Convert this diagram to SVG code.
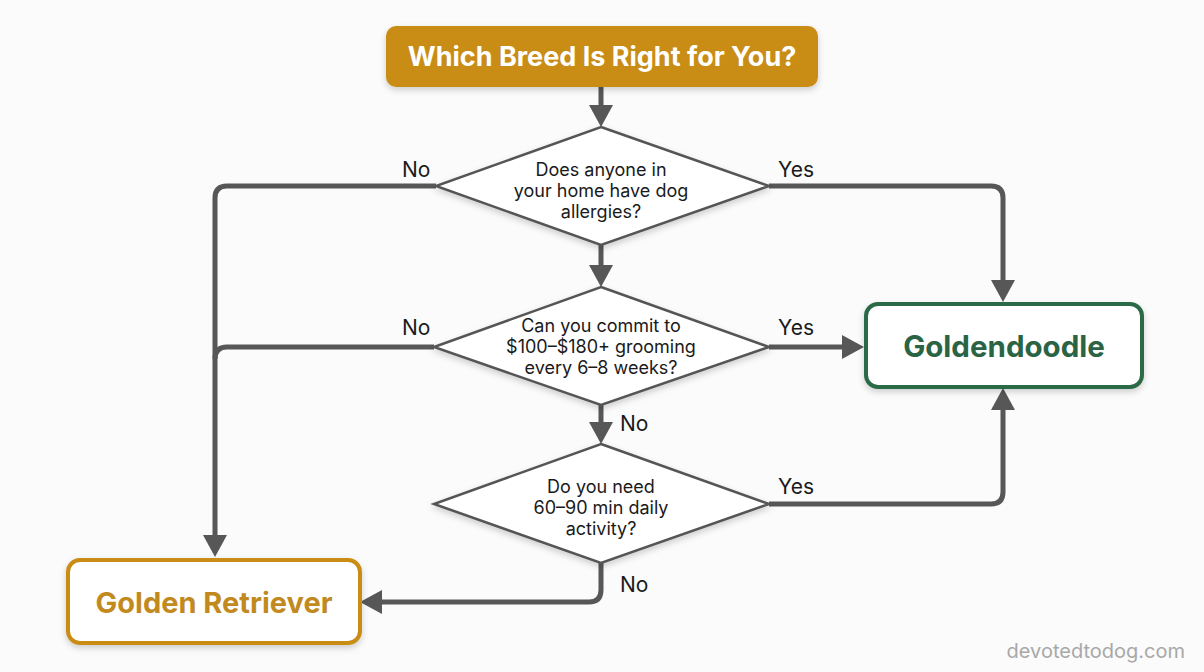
<svg xmlns="http://www.w3.org/2000/svg" width="1204" height="672" viewBox="0 0 1204 672">
  <style>
    .conn { fill: none; stroke: #575757; stroke-width: 5; stroke-linejoin: round; }
    .q { font-family: Inter, "Liberation Sans", sans-serif; font-size: 18px; fill: #1a1a1a; text-anchor: middle; }
    .lbl { font-family: Inter, "Liberation Sans", sans-serif; font-size: 21px; fill: #1a1a1a; }
    .diamond { fill: #ffffff; stroke: #555555; stroke-width: 2.5; }
  </style>
  <defs>
    <marker id="arrow" viewBox="0 0 22 24" markerWidth="22" markerHeight="24" markerUnits="userSpaceOnUse" refX="0" refY="12" orient="auto">
      <path d="M0,0 L22,12 L0,24 z" fill="#575757"/>
    </marker>
    <filter id="shadow" x="-10%" y="-10%" width="120%" height="130%">
      <feDropShadow dx="0" dy="3" stdDeviation="3" flood-color="#000" flood-opacity="0.18"/>
    </filter>
  </defs>
  <rect width="1204" height="672" fill="#fbfbfb"/>

  <g id="connectors">
    <path class="conn" d="M601,87 V105" marker-end="url(#arrow)"/>
    <path class="conn" d="M601,245 V265" marker-end="url(#arrow)"/>
    <path class="conn" d="M601,405 V422" marker-end="url(#arrow)"/>
    <path class="conn" d="M436,186 H227 Q215,186 215,198 V535" marker-end="url(#arrow)"/>
    <path class="conn" d="M434,347 H227 Q215,347 215,359"/>
    <path class="conn" d="M769,186 H991 Q1003,186 1003,198 V280" marker-end="url(#arrow)"/>
    <path class="conn" d="M769,347 H842" marker-end="url(#arrow)"/>
    <path class="conn" d="M769,504 H991 Q1003,504 1003,492 V410" marker-end="url(#arrow)"/>
    <path class="conn" d="M601,563 V590 Q601,602 589,602 H382" marker-end="url(#arrow)"/>
    <text class="lbl" x="402" y="177">No</text>
    <text class="lbl" x="778" y="177">Yes</text>
    <text class="lbl" x="402" y="335">No</text>
    <text class="lbl" x="778" y="335">Yes</text>
    <text class="lbl" x="620" y="431">No</text>
    <text class="lbl" x="778" y="494">Yes</text>
    <text class="lbl" x="620" y="592">No</text>
  </g>

  <g id="start">
    <rect x="386" y="26" width="432" height="61" rx="10" fill="#C98D17" filter="url(#shadow)"/>
    <text x="602" y="66" font-family="Inter, 'Liberation Sans', sans-serif" font-size="27" font-weight="bold" fill="#ffffff" text-anchor="middle">Which Breed Is Right for You?</text>
  </g>

  <g id="q1">
    <polygon class="diamond" points="601,127 769,186 601,245 436,186" filter="url(#shadow)"/>
    <text class="q" x="601" y="176">Does anyone in</text>
    <text class="q" x="601" y="197">your home have dog</text>
    <text class="q" x="601" y="218">allergies?</text>
  </g>

  <g id="q2">
    <polygon class="diamond" points="601,287 769,347 601,405 434,347" filter="url(#shadow)"/>
    <text class="q" x="601" y="332">Can you commit to</text>
    <text class="q" x="601" y="353">$100–$180+ grooming</text>
    <text class="q" x="601" y="374">every 6–8 weeks?</text>
  </g>

  <g id="q3">
    <polygon class="diamond" points="601,444 769,504 601,563 434,504" filter="url(#shadow)"/>
    <text class="q" x="601" y="493">Do you need</text>
    <text class="q" x="601" y="514">60–90 min daily</text>
    <text class="q" x="601" y="535">activity?</text>
  </g>

  <g id="goldendoodle">
    <rect x="866" y="304" width="276" height="83" rx="12" fill="#ffffff" stroke="#2B6A47" stroke-width="4" filter="url(#shadow)"/>
    <text x="1004" y="357" font-family="Inter, 'Liberation Sans', sans-serif" font-size="29.5" font-weight="bold" fill="#2A6444" text-anchor="middle">Goldendoodle</text>
  </g>

  <g id="golden-retriever">
    <rect x="68" y="560" width="292" height="83" rx="12" fill="#ffffff" stroke="#C98D17" stroke-width="4" filter="url(#shadow)"/>
    <text x="214" y="613" font-family="Inter, 'Liberation Sans', sans-serif" font-size="29" font-weight="bold" fill="#C28A1E" text-anchor="middle">Golden Retriever</text>
  </g>

  <text x="1185" y="658" font-family="Inter, 'Liberation Sans', sans-serif" font-size="20" fill="#a8a8a8" text-anchor="end">devotedtodog.com</text>
</svg>
